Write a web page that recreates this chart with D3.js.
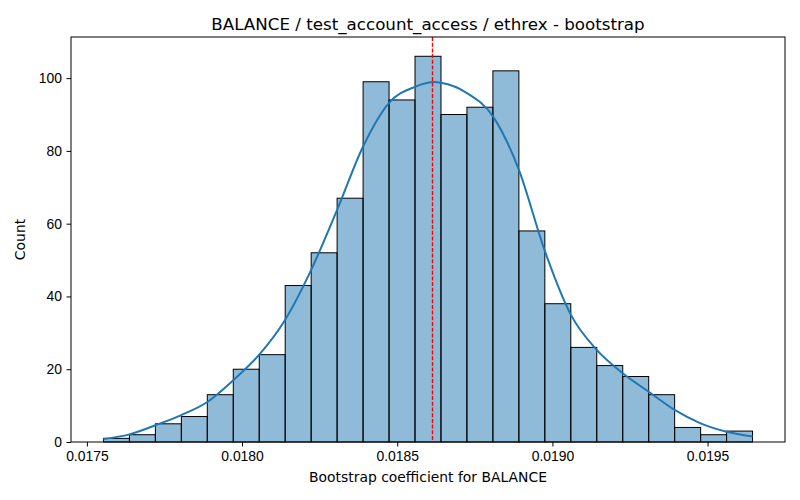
<!DOCTYPE html>
<html>
<head>
<meta charset="utf-8">
<script src="https://cdn.jsdelivr.net/npm/d3@7"></script>
<style>
  body { margin: 0; background: #fff; }
  svg { font-family: "DejaVu Sans", sans-serif; }
  .axis text { font-size: 13.9px; fill: #000; }
  .axis path, .axis line { stroke: #000; stroke-width: 1; }
</style>
</head>
<body>
<div id="chart"></div>
<script>
// Histogram bin edges (coefficient values) and counts per bin
const binEdges = [
  0.0175534, 0.0176371, 0.0177207, 0.0178044, 0.0178880, 0.0179717,
  0.0180554, 0.0181390, 0.0182227, 0.0183063, 0.0183900, 0.0184737,
  0.0185573, 0.0186410, 0.0187246, 0.0188083, 0.0188920, 0.0189756,
  0.0190593, 0.0191429, 0.0192266, 0.0193103, 0.0193939, 0.0194776,
  0.0195612, 0.0196449
];
const counts = [1, 2, 5, 7, 13, 20, 24, 43, 52, 67, 99, 94, 106, 90, 92, 102, 58, 38, 26, 21, 18, 13, 4, 2, 3];

// KDE curve, [coefficient, count]
const kdeX = [
  0.0175534, 0.0176371, 0.0177207, 0.0178044, 0.0178880, 0.0179717,
  0.0180554, 0.0181390, 0.0182227, 0.0183063, 0.0183900, 0.0184737,
  0.0185573, 0.0186200, 0.0186410, 0.0187246, 0.0188083, 0.0188920,
  0.0189756, 0.0190593, 0.0191429, 0.0192266, 0.0193103, 0.0193939,
  0.0194776, 0.0195612, 0.0196449
];
const kdeY = [0.8, 2.1, 4.6, 7.4, 11, 17, 24, 33.6, 47.3, 63.8, 81.2, 93.2, 97.6, 98.9, 98.7, 95.9, 89.5, 74.8, 52.5, 35, 25.3, 18.9, 13.8, 8.8, 5.1, 2.8, 1.5];

const meanValue = 0.018611;
const xTicks = [0.0175, 0.0180, 0.0185, 0.0190, 0.0195];
const yTicks = [0, 20, 40, 60, 80, 100];

const title = 'BALANCE / test_account_access / ethrex - bootstrap';
const xLabel = 'Bootstrap coefficient for BALANCE';
const yLabel = 'Count';

const W = 800, H = 500;
const margin = { top: 37, right: 15, bottom: 58, left: 71 };
const width = W - margin.left - margin.right;
const height = H - margin.top - margin.bottom;

const lo = binEdges[0], hi = binEdges[binEdges.length - 1];
const pad = (hi - lo) * 0.05;

const x = d3.scaleLinear()
  .domain([lo - pad, hi + pad])
  .range([0, width]);

const y = d3.scaleLinear()
  .domain([0, d3.max(counts) * 1.05])
  .range([height, 0]);

const svg = d3.select('#chart')
  .append('svg')
    .attr('width', W)
    .attr('height', H)
  .append('g')
    .attr('transform', 'translate(' + margin.left + ',' + margin.top + ')');

// bars
svg.append('g')
  .selectAll('rect')
  .data(counts)
  .join('rect')
    .attr('x', (d, i) => x(binEdges[i]))
    .attr('width', (d, i) => x(binEdges[i + 1]) - x(binEdges[i]))
    .attr('y', d => y(d))
    .attr('height', d => y(0) - y(d))
    .attr('fill', 'rgba(31,119,180,0.5)')
    .attr('stroke', '#000')
    .attr('stroke-width', 1);

// kde
const line = d3.line()
  .x((d, i) => x(kdeX[i]))
  .y(d => y(d))
  .curve(d3.curveMonotoneX);

svg.append('path')
  .datum(kdeY)
  .attr('d', line)
  .attr('fill', 'none')
  .attr('stroke', '#1f77b4')
  .attr('stroke-width', 2);

// mean line
svg.append('line')
  .attr('x1', Math.round(x(meanValue)) + 0.5).attr('x2', Math.round(x(meanValue)) + 0.5)
  .attr('y1', 0).attr('y2', height)
  .attr('stroke', '#ff0000')
  .attr('stroke-width', 1.4)
  .attr('stroke-dasharray', '4,1.7');

// axes
svg.append('g')
  .attr('class', 'axis')
  .attr('transform', 'translate(0,' + height + ')')
  .call(d3.axisBottom(x).tickValues(xTicks).tickFormat(d3.format('.4f')).tickSize(4.5).tickPadding(4.5))
  .call(g => g.select('.domain').remove());

svg.append('g')
  .attr('class', 'axis')
  .call(d3.axisLeft(y).tickValues(yTicks).tickSize(4.5).tickPadding(4.5))
  .call(g => g.select('.domain').remove());

// frame
svg.append('rect')
  .attr('x', 0).attr('y', 0)
  .attr('width', width).attr('height', height)
  .attr('fill', 'none')
  .attr('stroke', '#000')
  .attr('stroke-width', 1);

// labels
svg.append('text')
  .attr('x', width / 2).attr('y', -7)
  .attr('text-anchor', 'middle')
  .style('font-size', '16.7px')
  .text(title);

svg.append('text')
  .attr('x', width / 2).attr('y', height + 39.5)
  .attr('text-anchor', 'middle')
  .style('font-size', '13.9px')
  .text(xLabel);

svg.append('text')
  .attr('transform', 'translate(' + (-46) + ',' + (height / 2) + ') rotate(-90)')
  .attr('text-anchor', 'middle')
  .style('font-size', '13.9px')
  .text(yLabel);
</script>
</body>
</html>
